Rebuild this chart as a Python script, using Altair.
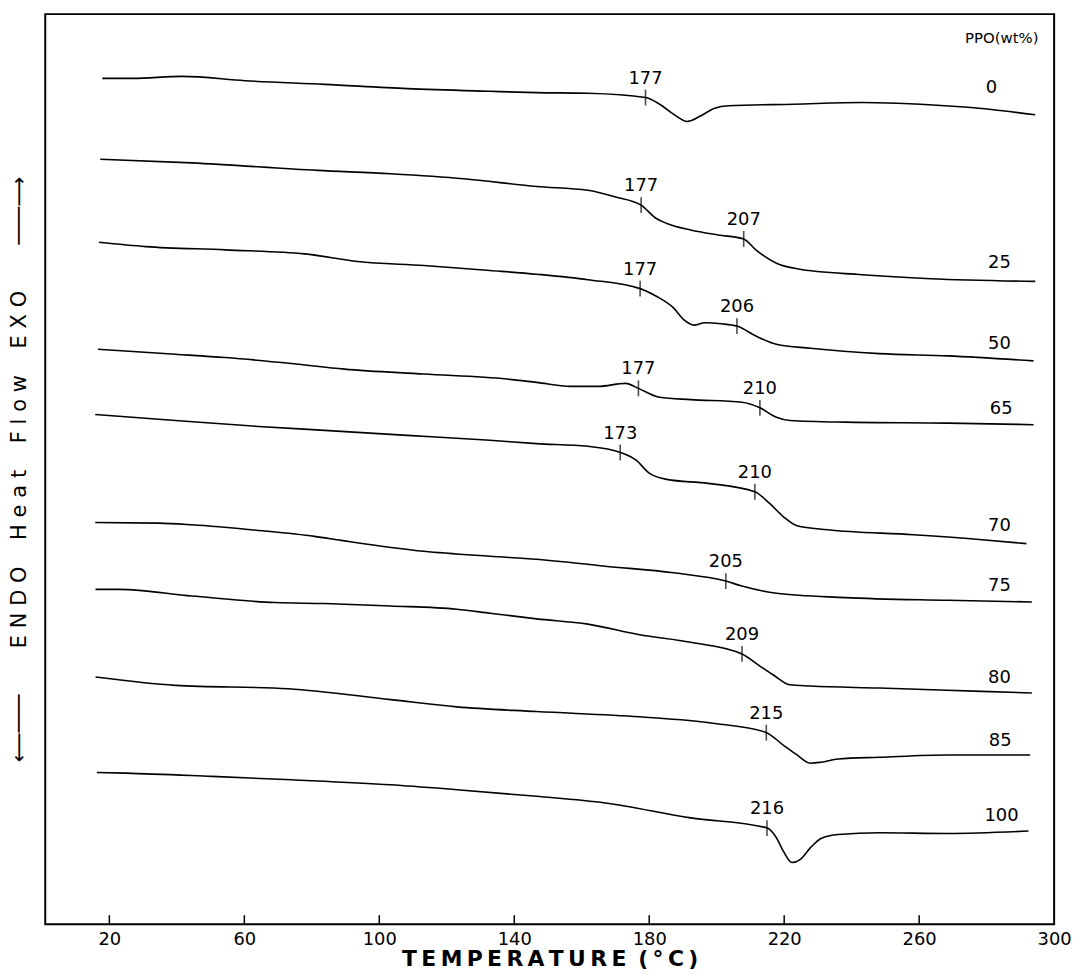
import altair as alt
import pandas as pd
import numpy as np

# ---- DSC traces: temperature (degC) and heat flow (arbitrary units, up = EXO) ----
t_0 = [17.9, 26.9, 41.6, 60.2, 83.8, 108.3, 132.8, 146.6, 161.8, 178.9, 183.1, 187.2, 191.3, 195.3, 199.4, 203.5, 222.8, 243.1, 260.4, 278.6, 294.4]
hf_0 = [851.3, 851.3, 853.3, 849, 845.3, 841, 838.3, 837, 836.3, 832, 825.3, 815.3, 808, 813.7, 821.3, 823.7, 825.3, 827, 825.3, 821, 814.7]

t_25 = [17.3, 44.5, 81.8, 103.4, 125.0, 146.6, 161.8, 170.0, 177.6, 182.1, 185.2, 192.3, 200.4, 208.0, 211.6, 217.7, 223.8, 243.1, 263.4, 294.4]
hf_25 = [770, 766.3, 758.7, 755.3, 750.3, 742.5, 738.7, 732, 723.7, 710.3, 705.3, 698.7, 693.7, 689.7, 678.7, 665.3, 659.7, 653.7, 649.7, 647]

t_50 = [16.9, 30.8, 54.4, 77.9, 93.6, 113.2, 132.8, 146.6, 161.8, 177.3, 182.1, 187.2, 190.3, 193.3, 196.4, 201.4, 206.0, 211.6, 217.7, 227.8, 248.2, 268.5, 293.9]
hf_50 = [686.3, 682, 678.7, 674.7, 667, 663, 658, 654.2, 648.7, 639.7, 632, 620.3, 608.3, 603, 605.3, 604.3, 602, 592, 583.7, 579.7, 574.3, 572, 567]

t_65 = [16.6, 39.6, 54.4, 74.0, 89.7, 113.2, 137.8, 146.6, 156.7, 164.9, 173.0, 176.8, 183.1, 192.3, 207.5, 212.8, 217.7, 221.7, 238.0, 268.5, 293.9]
hf_65 = [578.7, 573.7, 570.3, 564.3, 558.7, 553.7, 548.7, 545.3, 541.3, 541.3, 544.3, 539.3, 530.3, 528, 525.3, 519.7, 510.3, 507, 505.3, 504.3, 502.7]

t_70 = [15.8, 39.6, 64.2, 83.8, 108.3, 132.8, 146.6, 161.8, 171.5, 176.1, 180.1, 185.2, 197.4, 211.3, 215.6, 219.7, 223.8, 232.9, 258.3, 278.6, 291.8]
hf_70 = [513, 507, 501, 497, 492, 487, 483.7, 481, 474.7, 467, 453.7, 447.7, 443.7, 435.3, 423.7, 410.3, 401, 397, 392, 387, 383]

t_75 = [15.8, 34.7, 44.5, 64.2, 80.8, 88.7, 113.2, 132.8, 146.6, 166.9, 187.2, 202.7, 207.5, 217.7, 238.0, 268.5, 293.4]
hf_75 = [404.3, 403.7, 402, 396.3, 390.3, 386.3, 375.3, 370.3, 367.3, 360.3, 353.7, 345.3, 340.3, 333, 328.7, 326, 324.3]

t_80 = [15.9, 22.9, 44.5, 69.1, 83.8, 103.4, 123.0, 132.8, 146.6, 161.8, 177.1, 192.3, 207.5, 212.6, 216.7, 221.7, 227.8, 248.2, 278.6, 293.4]
hf_80 = [337, 337, 330.3, 323.7, 322.7, 320.3, 317, 313, 307.3, 302, 291.3, 283.7, 272, 260.3, 251, 241, 239.7, 237.7, 234.3, 232.7]

t_85 = [15.9, 39.6, 73.0, 103.4, 123.0, 146.6, 177.1, 199.4, 214.6, 219.7, 223.8, 227.8, 230.9, 236.0, 248.2, 268.5, 292.9]
hf_85 = [248.7, 240.3, 237, 226, 218.7, 214, 208.7, 202, 193, 180.3, 170.3, 162, 163, 166.3, 168, 170.3, 170.3]

t_100 = [16.3, 24.9, 50.4, 74.0, 103.4, 123.0, 146.6, 166.9, 192.3, 214.8, 217.7, 219.7, 222.3, 224.8, 227.8, 230.9, 236.0, 248.2, 268.5, 292.4]
hf_100 = [152.7, 152, 148.7, 145.3, 140.3, 135.3, 128.7, 122, 107, 97, 87, 73.7, 62, 65.3, 77, 86.3, 90.3, 92, 91.3, 93.7]

ppo_names = ["0", "25", "50", "65", "70", "75", "80", "85", "100"]
traces_t = [t_0, t_25, t_50, t_65, t_70, t_75, t_80, t_85, t_100]
traces_hf = [hf_0, hf_25, hf_50, hf_65, hf_70, hf_75, hf_80, hf_85, hf_100]

# transition marks (series, position, printed value)
ann_series = ["0", "25", "25", "50", "50", "65", "65", "70", "70", "75", "80", "85", "100"]
ann_t = [178.9, 177.6, 208.0, 177.3, 206.0, 176.8, 212.8, 171.4, 211.3, 202.7, 207.5, 214.7, 214.9]
ann_text = ["177", "177", "207", "177", "206", "177", "210", "173", "210", "205", "209", "215", "216"]

# composition labels at right
lab_t = [281.4, 283.8, 283.8, 284.3, 283.8, 283.8, 283.8, 284.0, 284.4]
lab_hf = [842, 665.3, 584.3, 518.7, 401, 340.3, 247.7, 184.3, 108.7]
lab_text = ppo_names

hdr_t = [284.5]
hdr_hf = [892]
hdr_text = ["PPO(wt%)"]

x_ticks = [20, 60, 100, 140, 180, 220, 260, 300]

FONT = "DejaVu Sans"

rows = []
for name, ts, hs in zip(ppo_names, traces_t, traces_hf):
    for t, h in zip(ts, hs):
        rows.append({"ppo": name, "T": t, "hf": h})
df = pd.DataFrame(rows)

ann_hf = []
for s, t in zip(ann_series, ann_t):
    i = ppo_names.index(s)
    ann_hf.append(float(np.interp(t, traces_t[i], traces_hf[i])))
ann = pd.DataFrame({"T": ann_t, "hf": ann_hf, "label": ann_text})
labs = pd.DataFrame({"T": lab_t, "hf": lab_hf, "label": lab_text})
hdr = pd.DataFrame({"T": hdr_t, "hf": hdr_hf, "label": hdr_text})
ticks_df = pd.DataFrame({"T": x_ticks[:-1]})

xscale = alt.Scale(domain=[1, 300], nice=False, zero=False)
yscale = alt.Scale(domain=[0, 916], nice=False, zero=False)

LS = "\u2004"          # letter gap
WS = "\u00a0\u00a0\u00a0\u00a0"  # word gap
AG = "\u00a0" * 7      # gap between arrow and words
x_title = "\u2009".join("TEMPERATURE") + "\u00a0\u2009(\u2009°\u2009C\u2009)"
y_title = ("\u27f5\u2500\u2500\u2500" + AG + LS.join("ENDO") + WS + LS.join("Heat") + WS +
           LS.join("Flow") + WS + LS.join("EXO") + AG + "\u2500\u2500\u2500\u27f6")

lines = alt.Chart(df).mark_line(color="black", strokeWidth=1.6, interpolate="monotone").encode(
    x=alt.X("T:Q", scale=xscale,
            axis=alt.Axis(values=x_ticks, title=x_title, tickSize=0, domain=False, grid=False,
                          labelFontSize=18, labelFont=FONT, labelPadding=6, labelColor="black",
                          titleFontSize=22, titleFont=FONT, titleFontWeight="bold", titlePadding=1,
                          titleColor="black", labelFlush=False)),
    y=alt.Y("hf:Q", scale=yscale,
            axis=alt.Axis(title=y_title, labels=False, ticks=False, domain=False, grid=False,
                          titleFontSize=21, titleFont=FONT, titleFontWeight="normal",
                          titlePadding=16, titleColor="black")),
    detail="ppo:N",
)

marks = alt.Chart(ann).mark_tick(orient="vertical", size=16, thickness=1.6, color="black").encode(
    x=alt.X("T:Q", scale=xscale), y=alt.Y("hf:Q", scale=yscale))

ann_txt = alt.Chart(ann).mark_text(dy=-19, fontSize=18, font=FONT, color="black").encode(
    x=alt.X("T:Q", scale=xscale), y=alt.Y("hf:Q", scale=yscale), text="label:N")

lab_txt = alt.Chart(labs).mark_text(fontSize=18, font=FONT, color="black").encode(
    x=alt.X("T:Q", scale=xscale), y=alt.Y("hf:Q", scale=yscale), text="label:N")

hdr_txt = alt.Chart(hdr).mark_text(fontSize=15, font=FONT, color="black").encode(
    x=alt.X("T:Q", scale=xscale), y=alt.Y("hf:Q", scale=yscale), text="label:N")

axis_ticks = alt.Chart(ticks_df).mark_rule(color="black", strokeWidth=1.5).encode(
    x=alt.X("T:Q", scale=xscale), y=alt.value(916), y2=alt.value(907))

chart = alt.layer(lines, marks, ann_txt, lab_txt, hdr_txt, axis_ticks).properties(
    width=1015.5, height=916,
    autosize=alt.AutoSizeParams(type="none"),
    padding={"left": 37.5, "top": 3, "right": 19, "bottom": 45},
    background="white",
).configure_view(stroke="black", strokeWidth=2)

chart.save("out.html", embed_options={"renderer": "svg", "actions": False})
